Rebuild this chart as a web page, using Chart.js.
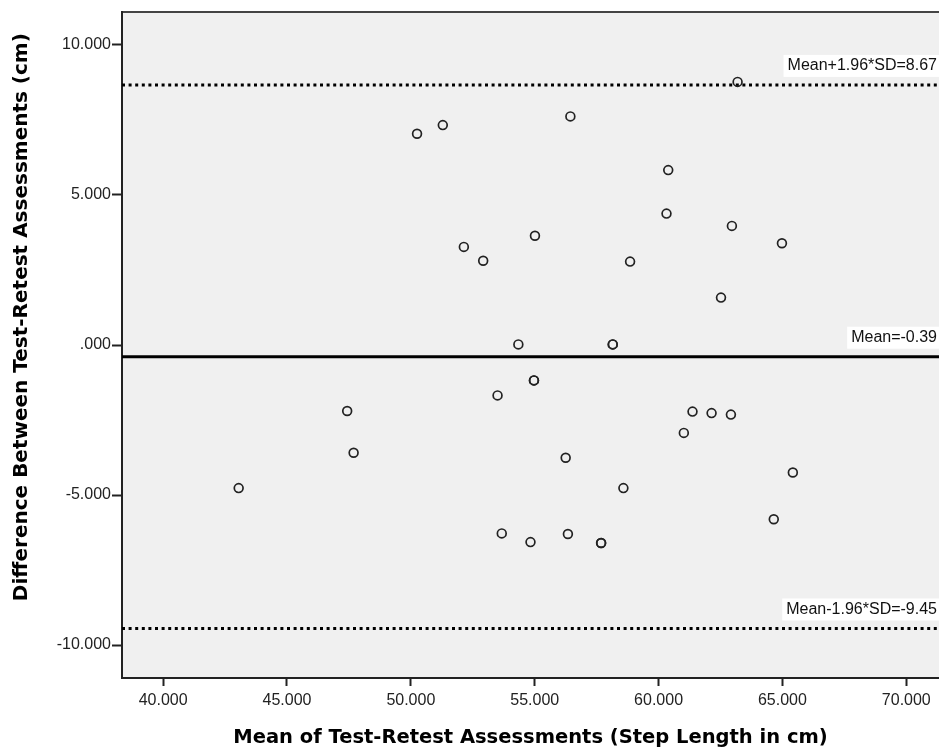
<!DOCTYPE html>
<html>
<head>
<meta charset="utf-8">
<script src="https://cdn.jsdelivr.net/npm/chart.js@4/dist/chart.umd.min.js"></script>
<style>
html,body{margin:0;padding:0;background:#fff}
#wrap{width:939px;height:754px}
</style>
</head>
<body>
<div id="wrap"><canvas id="baChart" width="939" height="754"></canvas></div>
<script>
// mean of the two assessments (x) and their difference (y)
let meanVals = [50.25,51.29,52.14,52.92,63.19,56.44,60.39,60.32,62.96,64.98,55.01,58.85,62.52,
54.34,58.15,58.15,54.97,54.97,47.43,47.69,43.05,53.50,61.37,62.14,62.92,61.02,56.25,65.42,
58.58,64.65,53.67,54.83,56.34,57.68,57.68]
let diffVals = [7.04,7.33,3.27,2.81,8.77,7.62,5.83,4.38,3.97,3.39,3.64,2.78,1.58,
0.02,0.02,0.02,-1.18,-1.18,-2.20,-3.59,-4.77,-1.68,-2.22,-2.27,-2.32,-2.93,-3.76,-4.25,
-4.77,-5.81,-6.28,-6.57,-6.30,-6.60,-6.60]

let refValues = [8.67,-0.39,-9.45]
let refLabels = ["Mean+1.96*SD=8.67","Mean=-0.39","Mean-1.96*SD=-9.45"]

let xTicks = [40,45,50,55,60,65,70]
let yTicks = [-10,-5,0,5,10]
let xMin = 38.34, xMax = 71.32
let yMin = -11.1, yMax = 11.1

let points = meanVals.map((x,i)=>({x:x,y:diffVals[i]}))

function fmt(v){
let s = Number(v).toFixed(3)
return s.replace(/^0\./,".").replace(/^-0\./,"-.")
}

let refSets = refValues.map((v,i)=>({
type:"line",
data:[{x:xMin,y:v},{x:xMax,y:v}],
borderColor:"#000",
borderWidth:3,
borderDash: i==1 ? [] : [3,3.6],
pointRadius:0,
showLine:true,
order:2
}))

let areaPlugin = {
id:"area",
beforeDraw(chart){
let a = chart.chartArea, c = chart.ctx
c.save()
c.fillStyle = "#f0f0f0"
c.fillRect(a.left,a.top,a.right-a.left,a.bottom-a.top)
c.strokeStyle = "#444"
c.lineWidth = 2
c.beginPath()
c.moveTo(a.left,a.top)
c.lineTo(a.right,a.top)
c.stroke()
c.restore()
},
afterDatasetsDraw(chart){
let c = chart.ctx, y = chart.scales.y, a = chart.chartArea
c.save()
c.font = "16px 'Liberation Sans', Arial, sans-serif"
c.textAlign = "right"
c.textBaseline = "middle"
refValues.forEach((v,i)=>{
let py = y.getPixelForValue(v) - 19
let w = c.measureText(refLabels[i]).width
c.fillStyle = "#fff"
c.fillRect(a.right-w-6,py-11,w+6,22)
c.fillStyle = "#111"
c.fillText(refLabels[i],a.right-2,py)
})
c.restore()
}
}

new Chart(document.getElementById("baChart"),{
type:"scatter",
data:{
datasets:[{
data:points,
pointRadius:4.4,
pointBorderWidth:1.7,
pointBorderColor:"#222",
pointBackgroundColor:"rgba(0,0,0,0)",
order:1
}].concat(refSets)
},
options:{
responsive:false,
animation:false,
layout:{autoPadding:false,padding:{top:12,right:0,left:0,bottom:0}},
plugins:{legend:{display:false},tooltip:{enabled:false}},
scales:{
x:{
type:"linear",
min:xMin,max:xMax,
afterBuildTicks(s){ s.ticks = xTicks.map(v=>({value:v})) },
afterFit(s){ s.height = 76 },
grid:{drawOnChartArea:false,tickLength:8,tickColor:"#222",tickWidth:2},
border:{color:"#222",width:2},
ticks:{color:"#222",padding:5,font:{family:"'Liberation Sans', Arial, sans-serif",size:16},callback:v=>fmt(v)},
title:{display:true,text:"Mean of Test-Retest Assessments (Step Length in cm)",color:"#000",
font:{family:"'DejaVu Sans', sans-serif",size:19.5,weight:"bold"},padding:{top:0,bottom:4}}
},
y:{
type:"linear",
min:yMin,max:yMax,
afterBuildTicks(s){ s.ticks = yTicks.map(v=>({value:v})) },
afterFit(s){ s.width = 122 },
grid:{drawOnChartArea:false,tickLength:10,tickColor:"#222",tickWidth:2},
border:{color:"#222",width:2},
ticks:{color:"#222",padding:1,font:{family:"'Liberation Sans', Arial, sans-serif",size:16},callback:v=>fmt(v)},
// leading spaces move the title up a little, as in the original
title:{display:true,text:"        Difference Between Test-Retest Assessments (cm)",color:"#000",
font:{family:"'DejaVu Sans', sans-serif",size:20,weight:"bold"},padding:{top:10,bottom:0}}
}
}
},
plugins:[areaPlugin]
})
</script>
</body>
</html>
